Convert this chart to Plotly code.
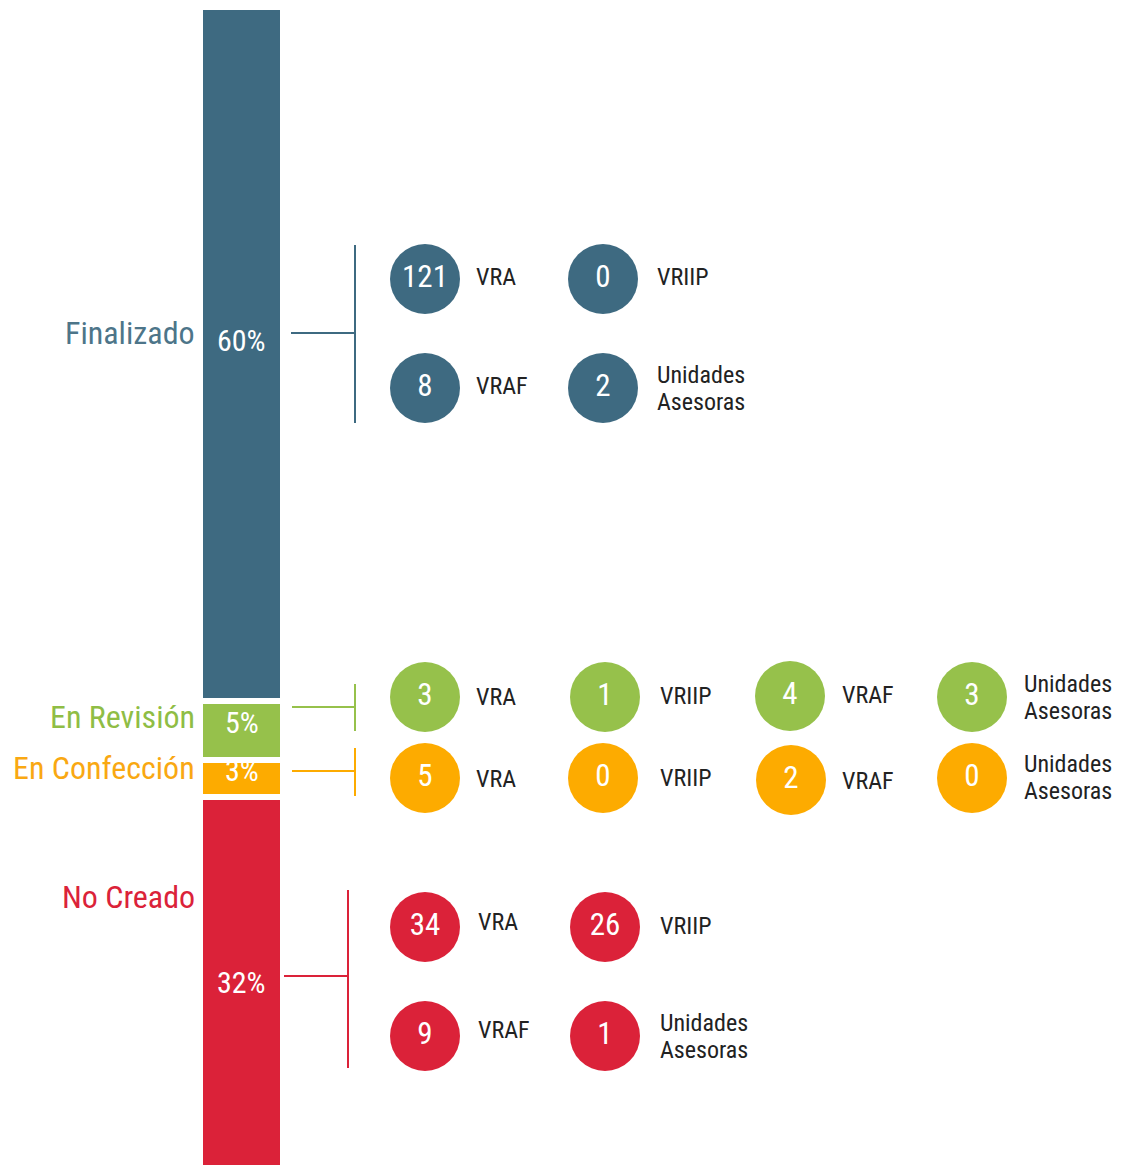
import plotly.graph_objects as go

# ---------------- data ----------------
categories = ["Finalizado", "En Revisión", "En Confección", "No Creado"]
units = ["VRA", "VRIIP", "VRAF", "Unidades Asesoras"]
counts_finalizado = [121, 0, 8, 2]
counts_revision = [3, 1, 4, 3]
counts_confeccion = [5, 0, 2, 0]
counts_no_creado = [34, 26, 9, 1]

counts = [counts_finalizado, counts_revision, counts_confeccion, counts_no_creado]
totals = [sum(c) for c in counts]
grand_total = sum(totals)
percents = [t / grand_total * 100 for t in totals]
pct_labels = [f"{round(p)}%" for p in percents]

# ---------------- style / layout ----------------
W, H = 1134, 1174
colors = ["#3e6a81", "#96c14b", "#fdab00", "#db2239"]
label_colors = ["#4d7589", "#8fbd45", "#f9a812", "#db2239"]
FONT = "Roboto Condensed, Liberation Sans Narrow, DejaVu Sans Condensed, Roboto, sans-serif"

bar_x = 241.5
bar_w = 83
gap = 6
bar_top_px, bar_bot_px = 7, 1168
line_h = 27  # spacing between wrapped label lines

# circle positions (pixels) per category, order as units
circle_pos = [
    [(425, 279), (603, 279), (425, 388), (603, 388)],
    [(425, 697), (605, 697), (790, 696), (972, 697)],
    [(425, 778), (603, 778), (791, 780), (972, 778)],
    [(425, 927), (605, 927), (425, 1036), (605, 1036)],
]
label_pos = [
    [(474, 277), (655, 277), (474, 386), (655, 388)],
    [(474, 697), (658, 696), (840, 695), (1022, 697)],
    [(474, 779), (658, 778), (840, 781), (1022, 777)],
    [(476, 922), (658, 926), (476, 1030), (658, 1036)],
]
cat_label_y = [333, 717, 768, 897]
pct_yshift = [14, 8, 8, 0]
# brackets: (h_x0, h_x1, h_y, v_y0, v_y1)
brackets = [
    (291, 355, 333, 245, 423),
    (292, 355, 707, 684, 731),
    (292, 355, 771, 748, 796),
    (284, 348, 976, 890, 1068),
]

fig = go.Figure()

# stacked bar
for i, cat in enumerate(categories):
    fig.add_trace(go.Bar(
        x=[bar_x], y=[percents[i]], width=bar_w,
        marker=dict(color=colors[i], line=dict(color="white", width=gap)),
        xaxis="x", yaxis="y2", showlegend=False, hoverinfo="skip",
        name=cat,
    ))

# circles
for i, cat in enumerate(categories):
    xs = [p[0] for p in circle_pos[i]]
    ys = [p[1] for p in circle_pos[i]]
    fig.add_trace(go.Scatter(
        x=xs, y=ys, mode="markers+text",
        marker=dict(size=70, color=colors[i], line=dict(width=0)),
        text=[str(v) for v in counts[i]], textposition="middle center",
        textfont=dict(family=FONT, size=31, color="white"),
        xaxis="x", yaxis="y", showlegend=False, hoverinfo="skip",
        cliponaxis=False,
    ))

annotations = []
shapes = []
cum = 0
for i, cat in enumerate(categories):
    mid = cum + percents[i] / 2
    cum += percents[i]
    annotations.append(dict(
        x=bar_x, y=mid, xref="x", yref="y2", text=pct_labels[i], showarrow=False,
        yshift=pct_yshift[i],
        font=dict(family=FONT, size=30, color="white"),
    ))
    annotations.append(dict(
        x=197, y=cat_label_y[i], xref="x", yref="y", text=cat, showarrow=False,
        xanchor="right", yanchor="middle",
        font=dict(family=FONT, size=32, color=label_colors[i]),
    ))
    for j, u in enumerate(units):
        lx, ly = label_pos[i][j]
        words = u.split(" ")
        n = len(words)
        for k, wd in enumerate(words):
            annotations.append(dict(
                x=lx, y=ly + (k - (n - 1) / 2) * line_h, xref="x", yref="y",
                text=wd, showarrow=False, xanchor="left", yanchor="middle",
                font=dict(family=FONT, size=24, color="#222222"),
            ))
    hx0, hx1, hy, vy0, vy1 = brackets[i]
    shapes.append(dict(type="line", xref="x", yref="y", x0=hx0, x1=hx1, y0=hy, y1=hy,
                       line=dict(color=colors[i], width=2)))
    shapes.append(dict(type="line", xref="x", yref="y", x0=hx1, x1=hx1, y0=vy0, y1=vy1,
                       line=dict(color=colors[i], width=2)))

fig.update_layout(
    width=W, height=H,
    margin=dict(l=0, r=0, t=0, b=0),
    paper_bgcolor="white", plot_bgcolor="rgba(0,0,0,0)",
    barmode="stack", bargap=0,
    xaxis=dict(range=[0, W], visible=False, domain=[0, 1], anchor="y", fixedrange=True),
    yaxis=dict(range=[H, 0], visible=False, domain=[0, 1], anchor="x", fixedrange=True),
    yaxis2=dict(range=[100, 0], visible=False, anchor="x",
                domain=[1 - bar_bot_px / H, 1 - bar_top_px / H], fixedrange=True),
    annotations=annotations, shapes=shapes,
    font=dict(family=FONT),
)

fig.write_html("out.html", config={"displayModeBar": False},
               post_script="document.body.style.margin='0';document.body.style.padding='0';")
